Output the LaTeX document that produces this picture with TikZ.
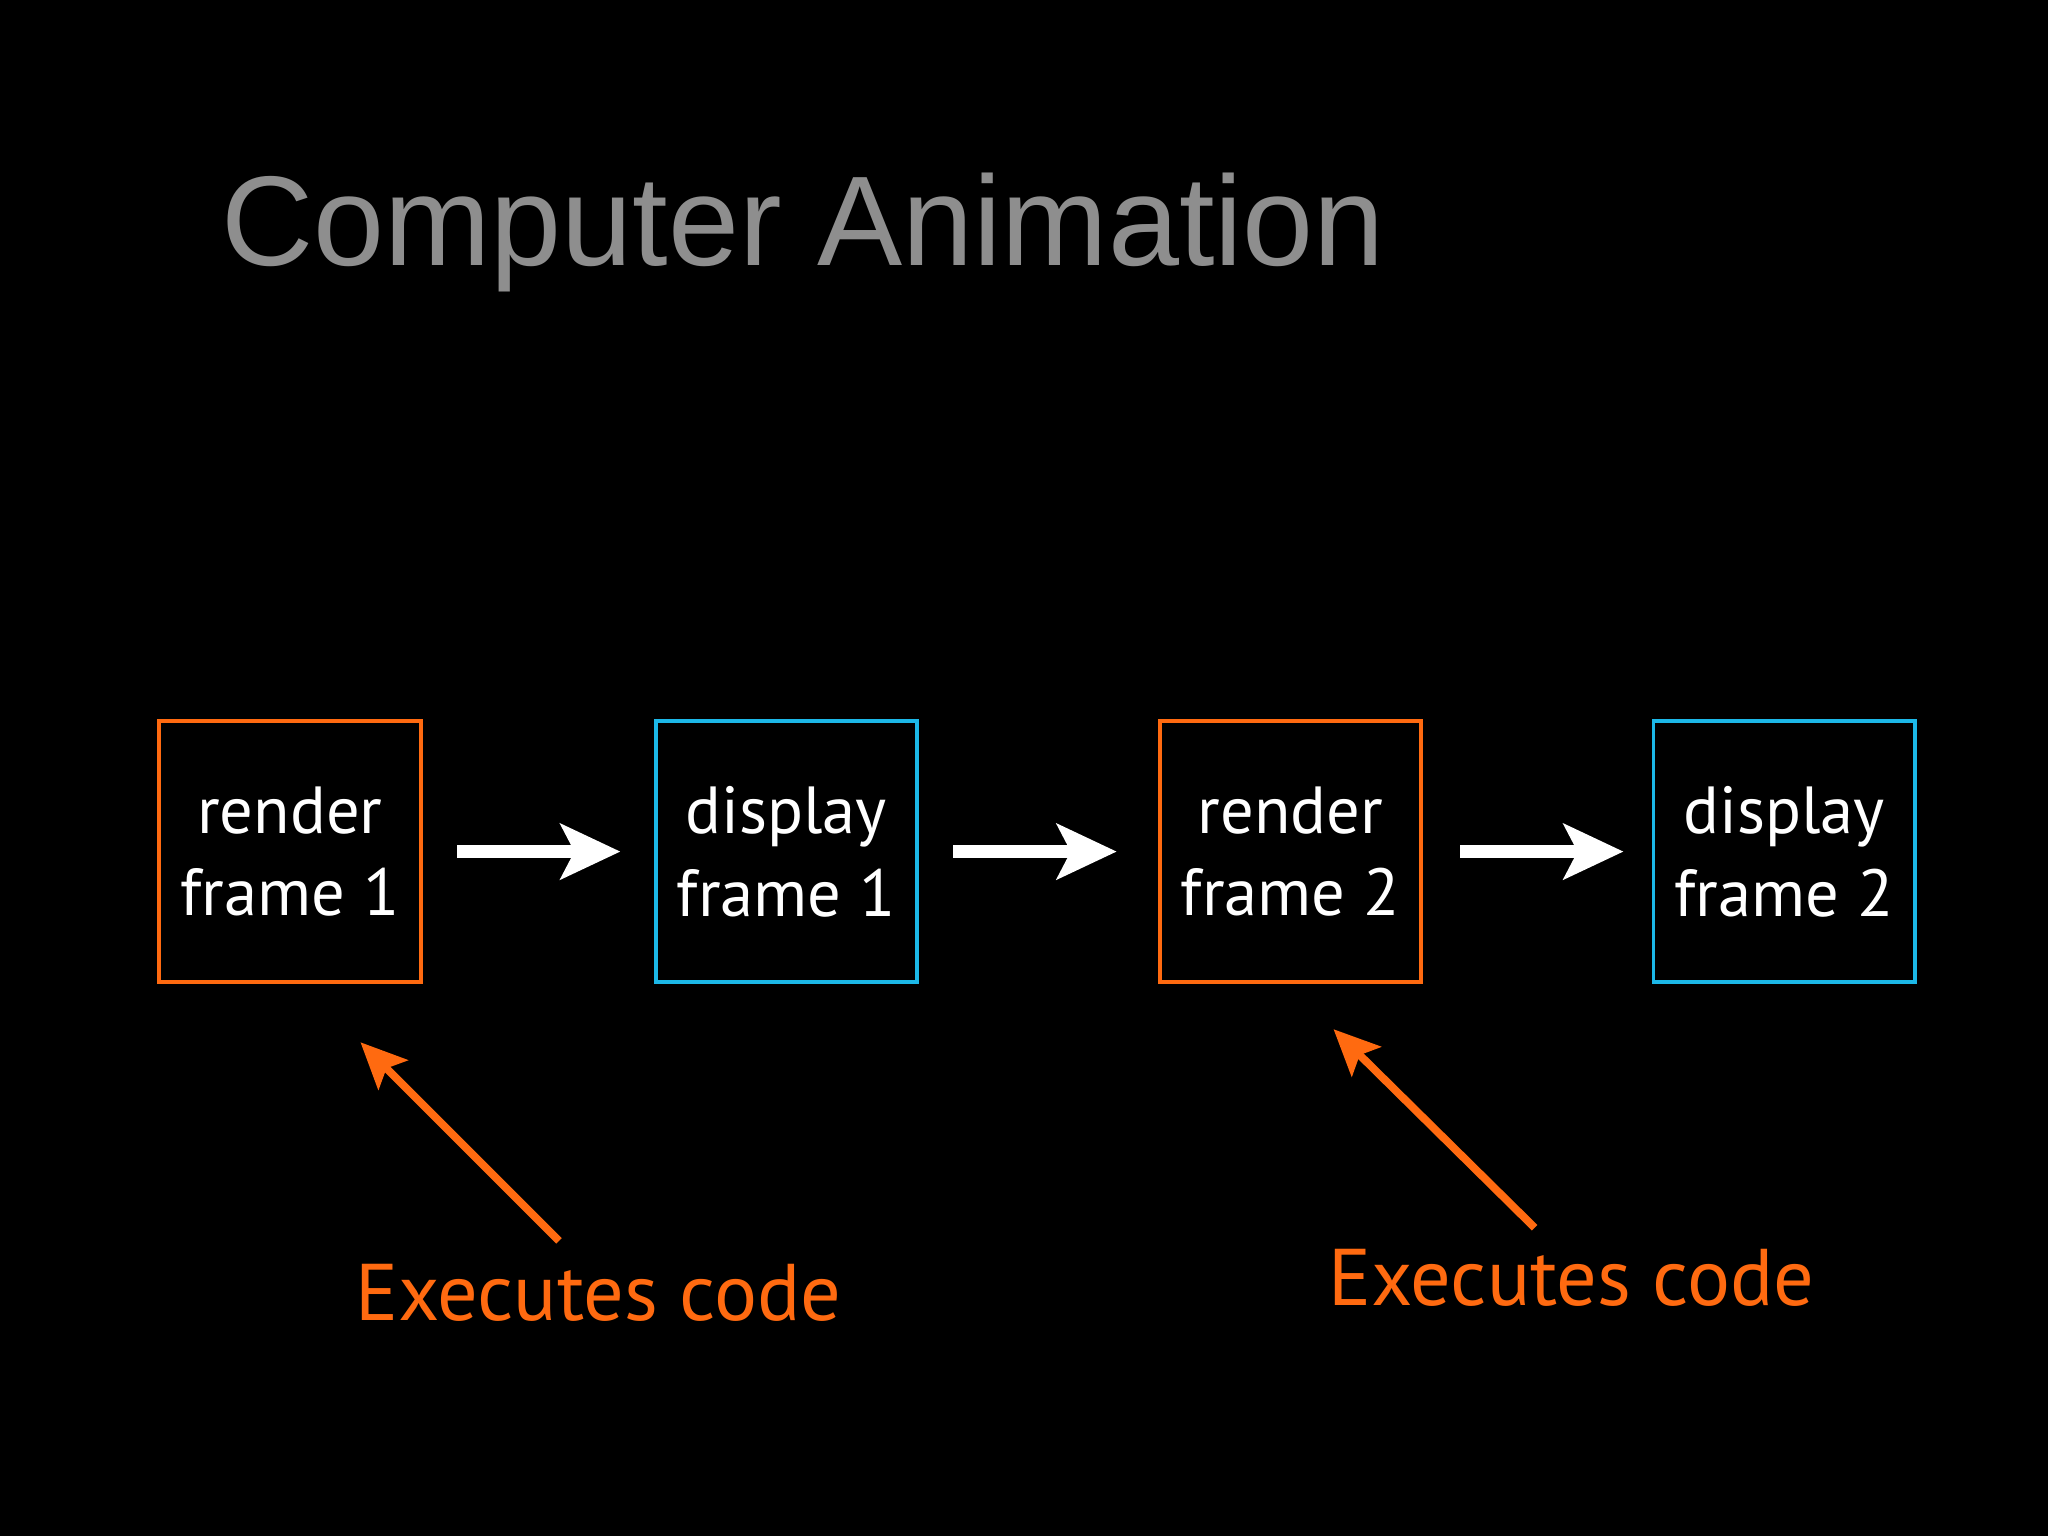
\documentclass[tikz,border=0pt]{standalone}
\usepackage{fontspec}
\setmainfont{PT Sans}
\newfontfamily\titlefont{Liberation Sans}
\usetikzlibrary{arrows.meta}
\definecolor{orng}{HTML}{FF6A10}
\definecolor{cyn}{HTML}{1CB8E8}
\definecolor{ttl}{HTML}{8E8E8E}
\begin{document}
\begin{tikzpicture}[x=0.01cm,y=-0.01cm,
  box/.style={draw,line width=0.85pt,minimum width=2cm,minimum height=2cm,inner sep=0pt,text=white,font=\fontsize{14.5}{18}\selectfont,align=center},
  rbox/.style={box,draw=orng},
  dbox/.style={box,draw=cyn},
  warr/.style={white,line width=2.9pt,-{Stealth[length=13pt,width=12pt,inset=3pt]}},
  oarr/.style={orng,line width=1.7pt,-{Stealth[length=10pt,width=9pt,inset=2pt]}},
  lab/.style={text=orng,font=\fontsize{17.5}{21}\selectfont}]
\fill[black] (0,0) rectangle (1568,1176);
\node[text=ttl,font=\titlefont\fontsize{27.8}{32}\selectfont,anchor=west] (title) at (157,178) {Computer Animation};
\node[rbox] (b1) at (222,652) {render\\frame 1};
\node[dbox] (b2) at (602,652) {display\\frame 1};
\node[rbox] (b3) at (988,652) {render\\frame 2};
\node[dbox] (b4) at (1366,652) {display\\frame 2};
\coordinate (a1s) at (350,652); \coordinate (a1e) at (475,652);
\coordinate (a2s) at (730,652); \coordinate (a2e) at (855,652);
\coordinate (a3s) at (1118,652); \coordinate (a3e) at (1243,652);
\draw[warr] (a1s) -- (a1e);
\draw[warr] (a2s) -- (a2e);
\draw[warr] (a3s) -- (a3e);
\node[lab] (e1) at (458,990) {Executes code};
\node[lab] (e2) at (1203,978) {Executes code};
\coordinate (o1s) at (428,950); \coordinate (o1e) at (276,798);
\coordinate (o2s) at (1175,940); \coordinate (o2e) at (1021,788);
\draw[oarr] (o1s) -- (o1e);
\draw[oarr] (o2s) -- (o2e);
\end{tikzpicture}
\end{document}
